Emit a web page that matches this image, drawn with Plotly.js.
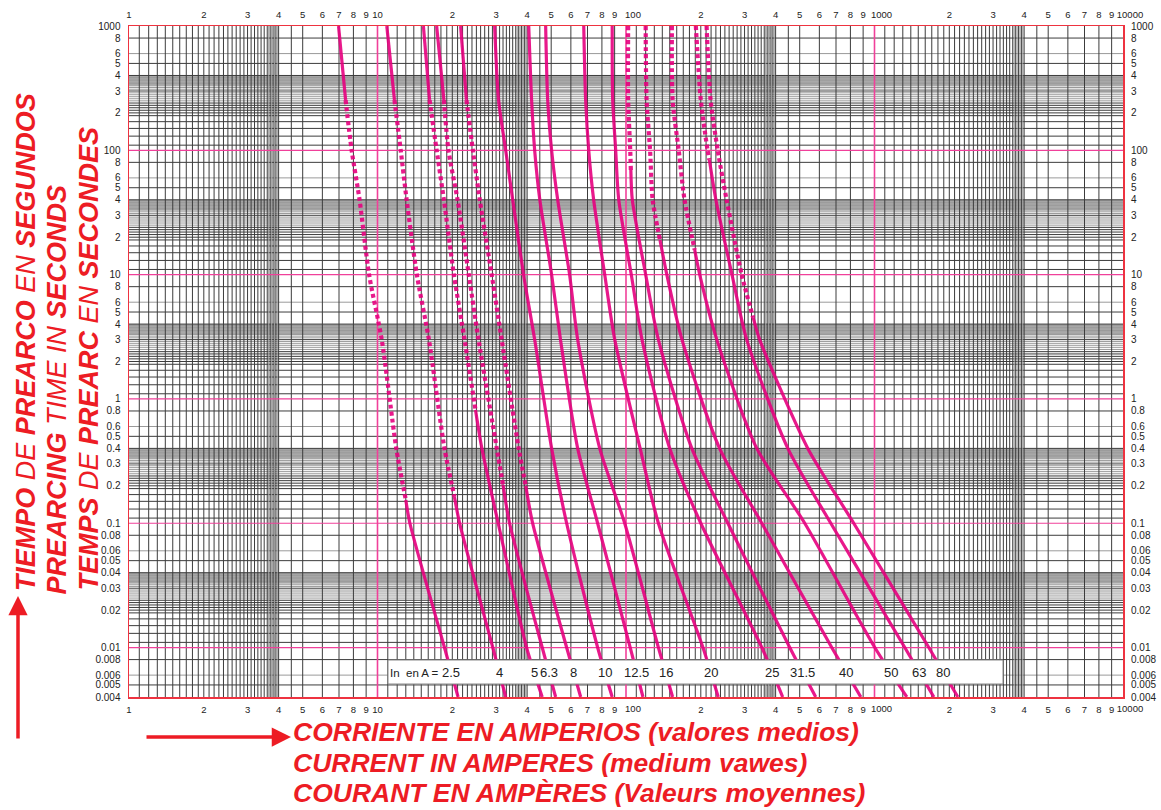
<!DOCTYPE html>
<html><head><meta charset="utf-8">
<script src="https://cdn.plot.ly/plotly-3.0.1.min.js"></script>
<style>html,body{margin:0;padding:0;background:#fff;}#chart{width:1161px;height:810px;}</style>
</head><body><div id="chart"></div>
<script>
// ---------- DATA ----------
// Pre-arcing time levels (s) at which each curve was read
const TIMES = [1000, 254, 100, 40, 10, 3, 0.4, 0.1, 0.01, 0.004];
const RATINGS = ['2.5','4','5','6.3','8','10','12.5','16','20','25','31.5','40','50','63','80'];
// Current (A) of every curve at the TIMES levels
const I_2_5  = [6.97, 7.44, 7.87, 8.47, 9.25, 10.4, 11.9, 13.5, 18.6, 21.1];
const I_4    = [10.9, 11.7, 12.4, 13.1, 14.4, 16.1, 18.6, 21.4, 29.1, 32.8];
const I_5    = [15.3, 16.2, 17.3, 18.5, 20.3, 22.4, 26.3, 30.6, 39.8, 46.0];
const I_6_3  = [17.3, 18.5, 19.3, 21.0, 23.3, 25.5, 30.2, 34.0, 46.0, 52.1];
const I_8    = [21.6, 22.8, 24.2, 25.8, 28.8, 31.6, 37.0, 42.1, 57.7, 65.7];
const I_10   = [29.6, 30.7, 32.8, 35.0, 38.7, 42.9, 50.2, 57.7, 76.9, 88.0];
const I_12_5 = [40.6, 41.7, 42.9, 45.0, 50.2, 54.5, 63.9, 76.9, 104, 117];
const I_16   = [47.5, 48.4, 50.2, 53.1, 59.3, 63.9, 78.4, 98.8, 135, 154];
const I_20   = [67.6, 68.8, 70.8, 74.1, 82.1, 90.1, 114, 135, 204, 235];
const I_25   = [88.0, 88.4, 90.9, 93.5, 105, 116, 150, 200, 352, 427];
const I_31_5 = [102, 102, 104, 106, 120, 135, 184, 257, 456, 580];
const I_40   = [120, 121, 125, 128, 146, 168, 238, 352, 673, 881];
const I_50   = [153, 154, 163, 172, 198, 232, 336, 524, 1003, 1349];
const I_63   = [191, 200, 213, 230, 267, 306, 448, 667, 1324, 1733];
const I_80   = [211, 219, 234, 254, 292, 345, 539, 825, 1654, 2165];
// Points [time, current] where each curve changes between solid and dotted
const BREAKS_2_5  = [[254, 7.44], [0.154, 13.0]];
const BREAKS_4    = [[254, 11.7], [0.163, 20.4]];
const BREAKS_5    = [[254, 16.2], [0.815, 24.8]];
const BREAKS_6_3  = [[254, 18.5], [0.203, 32.0]];
const BREAKS_8    = [[254, 22.8], [0.2, 39.5]];
const BREAKS_31_5 = [[69.4, 104.6]];
const BREAKS_40   = [[19, 137]];
const BREAKS_50   = [[15.8, 189]];
const BREAKS_63   = [[84, 216.5]];
const BREAKS_80   = [[4.5, 325]];
// Tick labels (decade labels 100/1000/10000 sit slightly right of their tick)
const X_TICK_VALS = [1,2,3,4,5,6,7,8,9,10,20,30,40,50,60,70,80,90,200,300,400,500,600,700,800,900,2000,3000,4000,5000,6000,7000,8000,9000];
const X_TICK_TEXT = ['1','2','3','4','5','6','7','8','9','10','2','3','4','5','6','7','8','9','2','3','4','5','6','7','8','9','2','3','4','5','6','7','8','9'];
const X_DECADE_VALS = [100, 1000, 10000];
const X_DECADE_TEXT = ['100', '1000', '10000'];
const Y_TICK_VALS = [0.004,0.005,0.006,0.008,0.01,0.02,0.03,0.04,0.05,0.06,0.08,0.1,0.2,0.3,0.4,0.5,0.6,0.8,1,2,3,4,5,6,8,10,20,30,40,50,60,80,100,200,300,400,500,600,800,1000];
const Y_TICK_TEXT = ['0.004','0.005','0.006','0.008','0.01','0.02','0.03','0.04','0.05','0.06','0.08','0.1','0.2','0.3','0.4','0.5','0.6','0.8','1','2','3','4','5','6','8','10','2','3','4','5','6','8','100','2','3','4','5','6','8','1000'];
// Graph-paper rulings (mantissas within each decade)
const X_GRID_DARK_M = [1.1,1.2,1.3,1.4,1.5,1.6,1.7,1.8,1.9,2,2.1,2.2,2.3,2.4,2.5,2.6,2.7,2.8,2.9,3,3.1,3.2,3.3,3.4,3.5,3.6,3.7,3.8,3.9,4,4.5,5,6,7,8,9];
const X_GRID_GRAY_M = [3.65,3.75,3.85,3.95];
const Y_GRID_DARK_M = [1.1,1.3,1.5,1.7,1.9,2,2.1,2.2,2.3,2.4,3,4,5,8];
const Y_GRID_GRAY_M = [2.5,2.6,2.7,2.8,2.9,3.1,3.2,3.3,3.35,3.4,3.45,3.5,3.55,3.6,3.65,3.7,3.75,3.8,3.85,3.9,3.95,6];
const X_DECADES = [1, 10, 100, 1000];
const Y_DECADES = [0.001, 0.01, 0.1, 1, 10, 100];
const LABEL_TIME = 0.0063; // time level of the "In en A =" strip

// ---------- BUILD ----------
const CURVES = [
  {I:I_2_5, start:'solid', br:BREAKS_2_5}, {I:I_4, start:'solid', br:BREAKS_4},
  {I:I_5, start:'solid', br:BREAKS_5}, {I:I_6_3, start:'solid', br:BREAKS_6_3},
  {I:I_8, start:'solid', br:BREAKS_8}, {I:I_10, start:'solid', br:[]},
  {I:I_12_5, start:'solid', br:[]}, {I:I_16, start:'solid', br:[]},
  {I:I_20, start:'solid', br:[]}, {I:I_25, start:'solid', br:[]},
  {I:I_31_5, start:'dot', br:BREAKS_31_5}, {I:I_40, start:'dot', br:BREAKS_40},
  {I:I_50, start:'dot', br:BREAKS_50}, {I:I_63, start:'dot', br:BREAKS_63},
  {I:I_80, start:'dot', br:BREAKS_80}
];
const PINK = '#E6007E';
const XMIN = 1, XMAX = 10000, YMIN = 0.004, YMAX = 1000;
const L = Math.log10;

function segments(I, start, breaks){
  const pts = TIMES.map((t,i)=>[t, I[i]]);
  const segs = []; let style = start; let cur = []; let bi = 0;
  const tog = s => s === 'solid' ? 'dot' : 'solid';
  for (const p of pts){
    while (bi < breaks.length && breaks[bi][0] > p[0]){
      const b = breaks[bi]; cur.push(b); segs.push({style, pts:cur}); cur = [b]; style = tog(style); bi++;
    }
    if (bi < breaks.length && breaks[bi][0] === p[0]){
      cur.push(p); segs.push({style, pts:cur}); cur = [p]; style = tog(style); bi++; continue;
    }
    cur.push(p);
  }
  if (cur.length > 1) segs.push({style, pts:cur});
  return segs;
}

const traces = [];
CURVES.forEach(c=>{
  segments(c.I, c.start, c.br).forEach(s=>{
    const solid = s.style === 'solid';
    traces.push({
      x: s.pts.map(p=>p[1]), y: s.pts.map(p=>p[0]),
      type:'scatter', mode:'lines', hoverinfo:'skip', showlegend:false,
      opacity: 0.9,
      line:{color:PINK, width: solid ? 3.2 : 4.2, dash: solid ? 'solid' : '4px,3px', shape:'spline', smoothing:0.7}
    });
  });
});
// invisible anchors so the extra label axes are drawn
[['x2','y2'],['x3','y'],['x4','y']].forEach(([xa,ya])=>traces.push({x:[10], y:[1], xaxis:xa, yaxis:ya, mode:'markers', marker:{opacity:0}, hoverinfo:'skip', showlegend:false}));

// grid shapes (data values on the log axes)
const shapes = [];
const vline = (v, color, w) => shapes.push({type:'line', layer:'below', xref:'x', yref:'paper', x0:v, x1:v, y0:0, y1:1, line:{color, width:w}});
const hline = (v, color, w) => shapes.push({type:'line', layer:'below', xref:'paper', yref:'y', x0:0, x1:1, y0:v, y1:v, line:{color, width:w}});
Y_DECADES.forEach(d=>Y_GRID_GRAY_M.forEach(m=>{const v=m*d; if(v>YMIN*1.0001 && v<YMAX) hline(v, '#9a9a9a', 1);}));
Y_DECADES.forEach(d=>Y_GRID_DARK_M.forEach(m=>{const v=m*d; if(v>YMIN*1.0001 && v<YMAX) hline(v, '#3c3c3c', 1);}));
X_DECADES.forEach(d=>X_GRID_GRAY_M.forEach(m=>vline(m*d, '#9a9a9a', 1)));
X_DECADES.forEach(d=>X_GRID_DARK_M.forEach(m=>{const v=m*d; if(v>XMIN && v<XMAX) vline(v, '#3c3c3c', 1);}));
X_DECADES.slice(1).forEach(d=>vline(d, '#F0409A', 1.6));
Y_DECADES.forEach(d=>{ if(d>YMIN && d<YMAX) hline(d, '#F0409A', 1.2); });

// pixel -> paper helpers for layout decorations
const PL = 129, PR = 1123, PT = 26, PB = 697;
const px = x => (x-PL)/(PR-PL), py = y => (PB-y)/(PB-PT);

// legend strip box
shapes.push({type:'rect', layer:'above', xref:'paper', yref:'paper', x0:px(388), x1:px(1003), y0:py(684), y1:py(660), fillcolor:'#ffffff', line:{color:'#8a8a8a', width:1}});

const annotations = [];
const RED = '#ED1C24';
// rating labels placed where each curve crosses the strip
CURVES.forEach((c,k)=>{
  const n = TIMES.length;
  const t1 = TIMES[n-2], t2 = TIMES[n-1], i1 = c.I[n-2], i2 = c.I[n-1];
  const f = (L(LABEL_TIME)-L(t1))/(L(t2)-L(t1));
  const li = L(i1) + f*(L(i2)-L(i1));
  annotations.push({xref:'x', yref:'paper', x:li, y:py(672.5), text:RATINGS[k], showarrow:false, xanchor:'center', yanchor:'middle', font:{family:'Liberation Sans, Arial, sans-serif', size:13, color:'#222'}});
});
annotations.push({xref:'paper', yref:'paper', x:px(388), y:py(672.5), text:'In  en A =', showarrow:false, xanchor:'left', yanchor:'middle', font:{family:'Liberation Sans, Arial, sans-serif', size:11.5, color:'#222'}});

// axis titles
const TF = {family:'Liberation Sans, Arial, sans-serif', size:27, color:RED};
[
  {x:25.5, y:342.8, t:'<i><b>TIEMPO</b> DE <b>PREARCO</b> EN <b>SEGUNDOS</b></i>'},
  {x:56, y:389.5, t:'<i><b>PREARCING</b> TIME IN <b>SECONDS</b></i>'},
  {x:88, y:358.5, t:'<i><b>TEMPS</b> DE <b>PREARC</b> EN <b>SECONDES</b></i>'}
].forEach(a=>annotations.push({xref:'paper', yref:'paper', x:px(a.x), y:py(a.y), text:a.t, textangle:-90, showarrow:false, xanchor:'center', yanchor:'middle', font:TF}));
[
  {y:732, t:'<b><i>CORRIENTE EN AMPERIOS (valores medios)</i></b>'},
  {y:763, t:'<b><i>CURRENT IN AMPERES (medium vawes)</i></b>'},
  {y:793, t:'<b><i>COURANT EN AMPÈRES (Valeurs moyennes)</i></b>'}
].forEach(a=>annotations.push({xref:'paper', yref:'paper', x:px(291), y:py(a.y), text:a.t, showarrow:false, xanchor:'left', yanchor:'middle', font:{...TF, size:26.5}}));
// arrows
annotations.push({xref:'paper', yref:'paper', x:px(291), y:py(737), ax:-146, ay:0, text:'', showarrow:true, arrowhead:2, arrowsize:1.1, arrowwidth:3.5, arrowcolor:RED});
annotations.push({xref:'paper', yref:'paper', x:px(18), y:py(596), ax:0, ay:144, text:'', showarrow:true, arrowhead:2, arrowsize:1.1, arrowwidth:3.5, arrowcolor:RED});

const TICKF = {family:'Liberation Sans Narrow, Arial Narrow, Liberation Sans, Arial, sans-serif', size:10, color:'#222'};
const XTICKF = {...TICKF, size:9.5};
const xCommon = {type:'log', range:[L(XMIN), L(XMAX)], tickmode:'array', tickangle:0, showgrid:false, zeroline:false, ticks:'outside', ticklen:3, tickcolor:'rgba(0,0,0,0)', tickfont:XTICKF, fixedrange:true};
const yCommon = {type:'log', range:[L(YMIN), L(YMAX)], tickmode:'array', tickvals:Y_TICK_VALS, ticktext:Y_TICK_TEXT, tickangle:0, showgrid:false, zeroline:false, ticks:'outside', ticklen:5, tickcolor:'rgba(0,0,0,0)', tickfont:TICKF, fixedrange:true};

const layout = {
  width:1161, height:810,
  margin:{l:PL, r:1161-PR, t:PT, b:810-PB, pad:0},
  paper_bgcolor:'#ffffff', plot_bgcolor:'#ffffff',
  showlegend:false, hovermode:false,
  xaxis:{...xCommon, tickvals:X_TICK_VALS, ticktext:X_TICK_TEXT, showline:true, mirror:true, linecolor:'#EE3340', linewidth:1.5},
  yaxis:{...yCommon, showline:true, mirror:true, linecolor:'#EE3340', linewidth:1.5},
  xaxis2:{...xCommon, tickvals:X_TICK_VALS, ticktext:X_TICK_TEXT, overlaying:'x', side:'top', anchor:'y2', showline:false},
  yaxis2:{...yCommon, overlaying:'y', side:'right', anchor:'x2', showline:false},
  xaxis3:{...xCommon, tickvals:X_DECADE_VALS, ticktext:X_DECADE_TEXT, overlaying:'x', side:'bottom', anchor:'y', showline:false, ticklabelshift:7},
  xaxis4:{...xCommon, tickvals:X_DECADE_VALS, ticktext:X_DECADE_TEXT, overlaying:'x', side:'top', anchor:'y', showline:false, ticklabelshift:7},
  shapes, annotations
};
Plotly.newPlot('chart', traces, layout, {staticPlot:true, displayModeBar:false});
</script></body></html>
